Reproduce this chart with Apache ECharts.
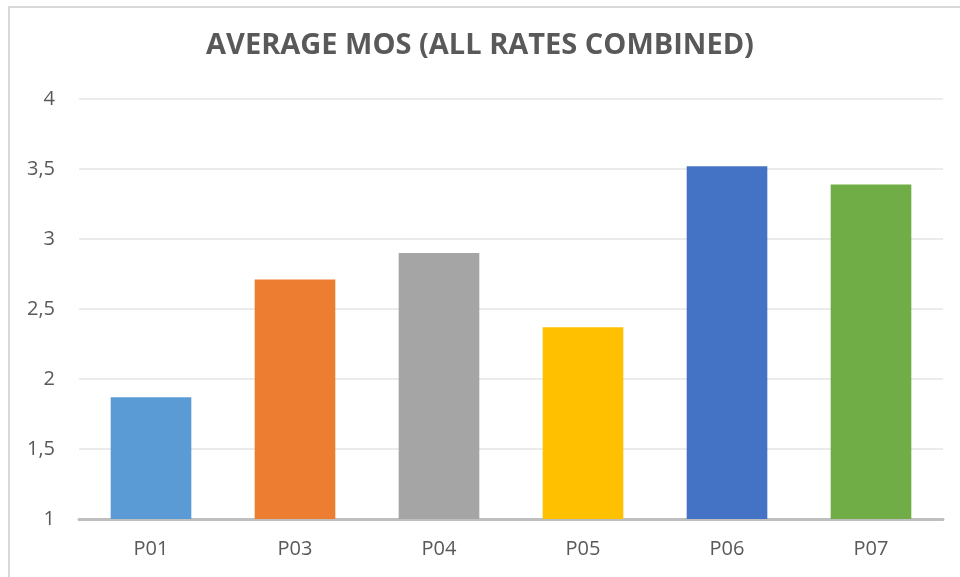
<!DOCTYPE html>
<html><head><meta charset="utf-8">
<script src="https://cdn.jsdelivr.net/npm/echarts@6/dist/echarts.min.js"></script>
<style>html,body{margin:0;padding:0;background:#fff}#c{width:960px;height:577px}
#frame{position:absolute;left:8px;top:6px;width:980px;height:600px;border:2px solid #d9d9d9;box-sizing:border-box;pointer-events:none}</style>
</head><body><div id="c"></div><div id="frame"></div>
<script>
const titleText = 'AVERAGE MOS (ALL RATES COMBINED)';
const categories = ['P01','P03','P04','P05','P06','P07'];
const values = [1.87, 2.71, 2.90, 2.37, 3.52, 3.39];
const colors = ['#5b9bd5','#ed7d31','#a5a5a5','#ffc000','#4472c4','#70ad47'];
const yMin = 1, yMax = 4, yStep = 0.5;

const chart = echarts.init(document.getElementById('c'), null, {renderer:'canvas'});
chart.setOption({
  animation:false,
  backgroundColor:'#fff',
  title:{text:titleText,left:'center',top:26,textStyle:{fontFamily:'Open Sans',fontWeight:'bold',fontSize:29,color:'#595959'}},
  grid:{left:79,right:17,top:99,bottom:58,containLabel:false},
  xAxis:{type:'category',data:categories,
    axisLine:{lineStyle:{color:'#bfbfbf',width:3}},axisTick:{show:false},
    axisLabel:{fontFamily:'Open Sans',fontSize:20,color:'#595959',margin:20}},
  yAxis:{type:'value',min:yMin,max:yMax,interval:yStep,
    axisLine:{show:false},axisTick:{show:false},
    splitLine:{lineStyle:{color:'#ebebeb',width:2}},
    axisLabel:{fontFamily:'Open Sans',fontSize:20,color:'#595959',margin:24,
      formatter:v=>String(v).replace('.',',')}},
  series:[{type:'bar',barWidth:'56%',
    data:values.map((v,i)=>({value:v,itemStyle:{color:colors[i]}}))}]
});
</script></body></html>
